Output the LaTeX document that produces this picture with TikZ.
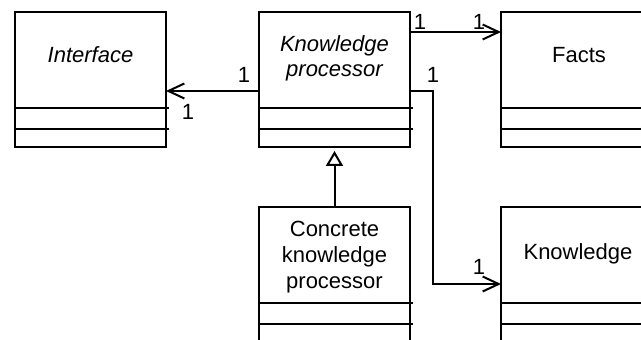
\documentclass[tikz,border=0pt]{standalone}
\usepackage{fontspec}
\setmainfont{Liberation Sans}
\usetikzlibrary{arrows.meta,calc}

\tikzset{
  classbox/.style={draw, line width=1pt, rectangle, anchor=north west,
    minimum width=75.5pt, minimum height=67.5pt, inner sep=0pt, outer sep=0pt},
  sepline/.style={line width=1pt},
  title/.style={anchor=base, align=center, inner sep=0pt,
    font=\fontsize{11}{13}\selectfont},
  mult/.style={anchor=base, inner sep=0pt, font=\fontsize{11}{13}\selectfont},
  assoc/.style={line width=1pt, -{Straight Barb[length=8pt, width=7.5pt, line width=1pt]}},
  inherit/.style={line width=1pt, -{Triangle[open, length=7.5pt, width=8.5pt, line width=1pt]}},
}

\begin{document}
\begin{tikzpicture}[x=0.5pt, y=-0.5pt]
\useasboundingbox (0,0) rectangle (641,340);
\clip (0,0) rectangle (641,340);

% class boxes
\node[classbox] (iface) at (15,12) {};
\node[classbox] (kp)    at (259,12) {};
\node[classbox] (facts) at (501,12) {};
\node[classbox] (cp)    at (259,207) {};
\node[classbox] (know)  at (501,207) {};

% compartment separators (attributes / operations)
\foreach \c in {iface,kp,facts,cp,know}{
  \draw[sepline] ($(\c.north west)+(0,96)$) -- ($(\c.north east)+(3,96)$);
  \draw[sepline] ($(\c.north west)+(0,117)$) -- ($(\c.north east)+(3,117)$);
}

% class names (multi-line names are placed by the baseline of their last line)
\node[title, font=\fontsize{11}{13}\selectfont\itshape] (ifaceT) at ($(iface.north)+(0,51)$) {Interface};
\node[title, font=\fontsize{11}{12.5}\selectfont\itshape] (kpT) at ($(kp.north)+(0,65)$) {Knowledge\\processor};
\node[title] (factsT) at ($(facts.north west)+(78,51)$) {Facts};
\node[title] (cpT) at ($(cp.north)+(0,82)$) {Concrete\\knowledge\\processor};
\node[title] (knowT) at ($(know.north west)+(77,53)$) {Knowledge};

% associations
\draw[assoc] ($(kp.north west)+(0,79)$) -- ($(iface.north east)+(0,79)$);
\draw[assoc] ($(kp.north east)+(0,20)$) -- ($(facts.north west)+(0,20)$);
\draw[assoc] ($(kp.north east)+(0,79)$) -- ($(kp.north east)+(23,79)$)
  |- ($(know.north west)+(0,77)$);

% generalization
\draw[inherit, shorten >=2pt] (cp.north) -- (kp.south);

% multiplicities
\node[mult] (m1) at (244,83) {1};
\node[mult] (m2) at (188,120) {1};
\node[mult] (m3) at (420,30) {1};
\node[mult] (m4) at (479,30) {1};
\node[mult] (m5) at (433,83) {1};
\node[mult] (m6) at (479,275) {1};
\end{tikzpicture}
\end{document}
